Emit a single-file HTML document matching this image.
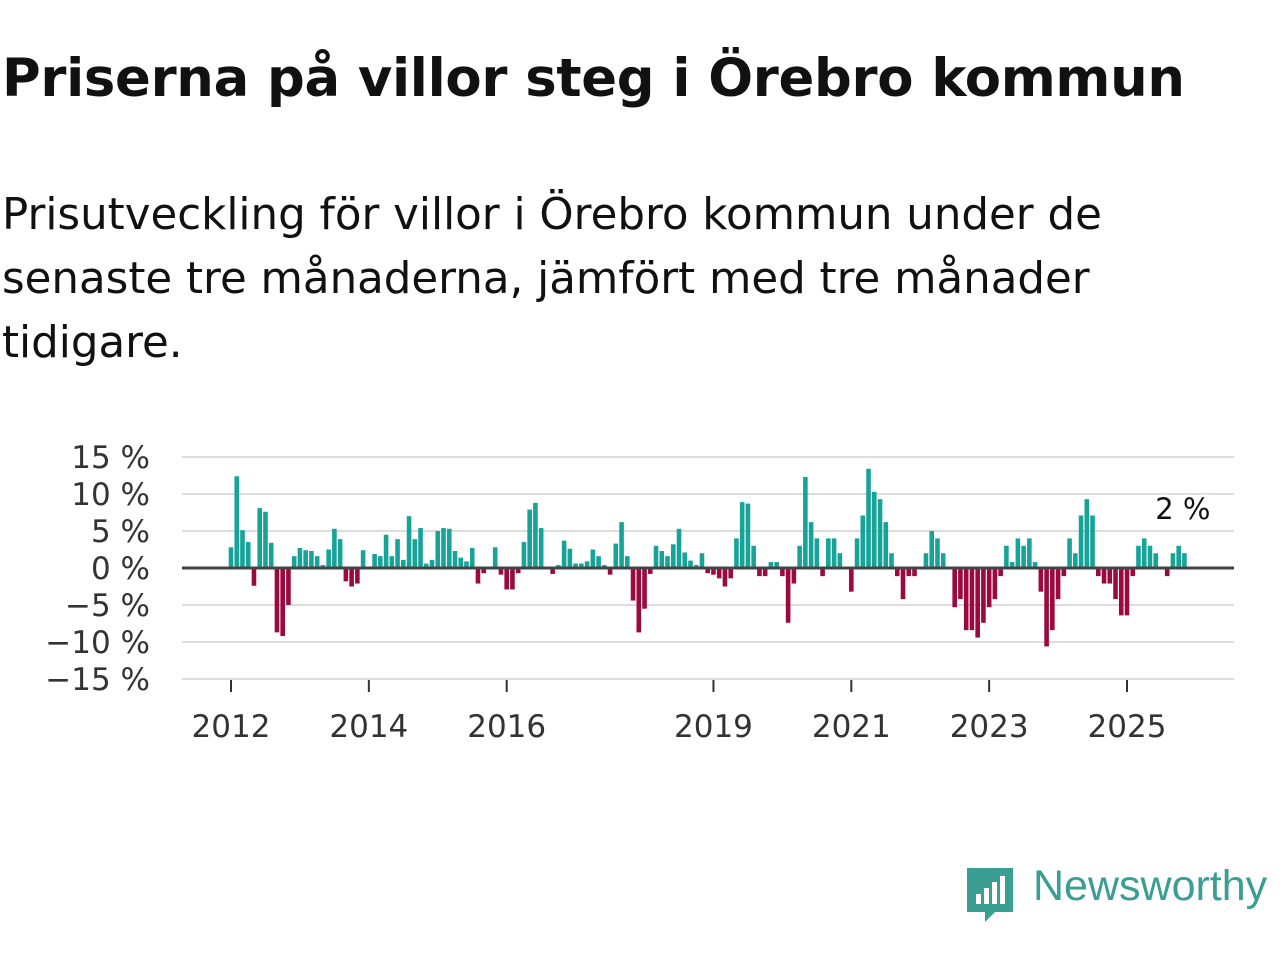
<!DOCTYPE html>
<html><head><meta charset="utf-8">
<style>
body{margin:0;width:1280px;height:960px;background:#fff;font-family:"DejaVu Sans",sans-serif;overflow:hidden;position:relative}
h1{position:absolute;left:2px;top:48px;margin:0;font-size:52.8px;font-weight:bold;color:#111;white-space:nowrap;letter-spacing:-0.3px}
p{position:absolute;left:2px;top:183px;margin:0;font-size:43.5px;line-height:64px;color:#111;width:1140px}
svg{position:absolute;left:0;top:0}
</style></head><body>
<h1>Priserna på villor steg i Örebro kommun</h1>
<p>Prisutveckling för villor i Örebro kommun under de senaste tre månaderna, jämfört med tre månader tidigare.</p>
<svg id="chart" width="1280" height="960"></svg>
<div style="position:absolute;left:965px;top:866px;">
<svg width="50" height="58"><path d="M2 2h46v44h-18l-10 10v-10h-18z" fill="#3a9e93"/><rect x="11" y="28" width="5" height="10" fill="#fff"/><rect x="19" y="22" width="5" height="16" fill="#fff"/><rect x="27" y="16" width="5" height="22" fill="#fff"/><rect x="35" y="10" width="5" height="28" fill="#fff"/></svg>
<span style="position:absolute;left:68px;top:-4px;font-size:43px;color:#3a9e93;white-space:nowrap;font-family:'Liberation Sans',sans-serif">Newsworthy</span></div>
<script>
const values=[2.8,12.4,5.1,3.5,-2.4,8.1,7.6,3.4,-8.7,-9.2,-5.0,1.6,2.7,2.4,2.3,1.6,0.4,2.5,5.3,3.9,-1.8,-2.5,-2.1,2.4,0,1.9,1.6,4.5,1.6,3.9,1.1,7.0,3.9,5.4,0.6,1.1,5.0,5.4,5.3,2.3,1.4,0.9,2.7,-2.1,-0.7,0,2.8,-0.9,-2.9,-2.9,-0.7,3.5,7.9,8.8,5.4,0.2,-0.8,0.4,3.7,2.6,0.6,0.6,0.9,2.5,1.6,0.4,-0.9,3.3,6.2,1.6,-4.4,-8.7,-5.5,-0.8,3.0,2.3,1.6,3.2,5.3,2.1,1.0,0.4,2.0,-0.7,-0.9,-1.4,-2.5,-1.4,4.0,8.9,8.7,3.0,-1.1,-1.1,0.8,0.8,-1.1,-7.4,-2.1,3.0,12.3,6.2,4.0,-1.1,4.0,4.0,2.0,0,-3.2,4.0,7.1,13.4,10.3,9.3,6.2,2.0,-1.1,-4.2,-1.1,-1.1,0,2.0,5.0,4.0,2.0,0,-5.3,-4.2,-8.4,-8.4,-9.4,-7.4,-5.3,-4.2,-1.1,3.0,0.8,4.0,3.0,4.0,0.8,-3.2,-10.6,-8.4,-4.2,-1.1,4.0,2.0,7.1,9.3,7.1,-1.1,-2.1,-2.1,-4.2,-6.4,-6.4,-1.1,3.0,4.0,3.0,2.0,0,-1.1,2.0,3.0,2.0];
const startYear=2012;
const yTicks=[15,10,5,0,-5,-10,-15];
const yTickLabels=["15 %","10 %","5 %","0 %","\u22125 %","\u221210 %","\u221215 %"];
const xTickYears=[2012,2014,2016,2019,2021,2023,2025];
const lastLabel="2 %";
const NS="http://www.w3.org/2000/svg";
const svg=document.getElementById('chart');
const x=i=>231+i*(1127-231)/156;
const y=v=>568-v*7.4;
function mk(t,a){const e=document.createElementNS(NS,t);for(const k in a)e.setAttribute(k,a[k]);svg.appendChild(e);return e;}
yTicks.forEach((t,j)=>{
  if(t!==0){const g=mk('line',{x1:182,x2:1234,y1:y(t),y2:y(t),stroke:'#ddd','stroke-width':2});
  
  }
  const l=mk('text',{x:150,y:y(t)+11,'text-anchor':'end','font-size':31,fill:'#333','font-family':'DejaVu Sans, sans-serif'});
  l.textContent=yTickLabels[j];
  
  
});
xTickYears.forEach(yr=>{
  const xi=x((yr-startYear)*12);
  const tk=mk('line',{x1:xi,x2:xi,y1:680,y2:692,stroke:'#333','stroke-width':2});
  
  
  const l=mk('text',{x:xi,y:737,'text-anchor':'middle','font-size':31,fill:'#333','font-family':'DejaVu Sans, sans-serif'});
  l.textContent=yr;
  
  
});
values.forEach((v,i)=>{
  if(v===0)return;
  const b=mk('rect',{x:x(i)-2.3,width:4.6,y:Math.min(y(v),y(0)),height:Math.abs(y(v)-y(0)),fill:v>0?'#17a398':'#9b0a3e'});
  
  
});
const zl=mk('line',{x1:182,x2:1234,y1:y(0),y2:y(0),stroke:'#444','stroke-width':3});


const ll=mk('text',{x:x(values.length-1)+26,y:y(values[values.length-1])-34,'text-anchor':'end','font-size':29,fill:'#111','font-family':'DejaVu Sans, sans-serif',stroke:'#fff','stroke-width':5,'paint-order':'stroke'});
ll.textContent=lastLabel;


</script>
</body></html>
